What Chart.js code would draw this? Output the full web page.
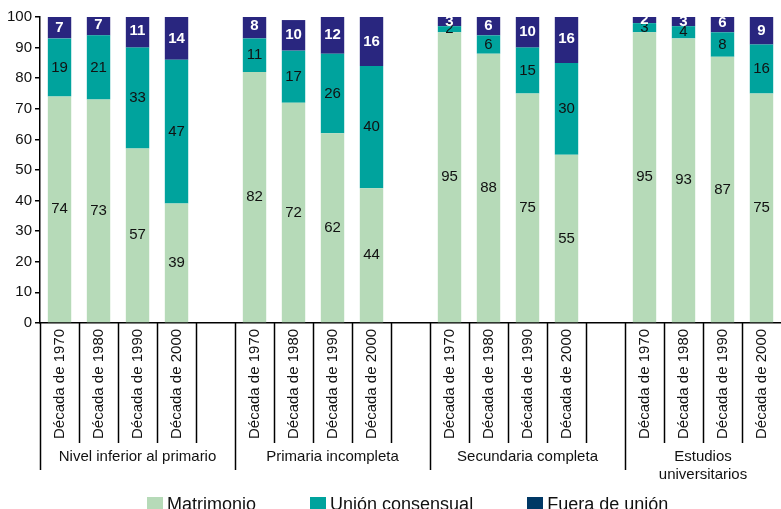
<!DOCTYPE html>
<html lang="es">
<head>
  <meta charset="UTF-8">
  <title>Tipo de unión por nivel educativo</title>
  <script src="https://cdn.jsdelivr.net/npm/chart.js"></script>
  <style>
    body {
      margin: 0;
      background: #fff;
      font-family: "Liberation Sans", Arial, sans-serif;
    }
    .wrap {
      position: relative;
      width: 781px;
      height: 509px;
      overflow: hidden;
    }
    .legend {
      position: absolute;
      top: 494px;
      left: 147px;
      display: flex;
      align-items: center;
      font-size: 18px;
      color: #111;
    }
    .legend-item {
      display: flex;
      align-items: center;
      margin-right: 54px;
    }
    .legend-color {
      width: 16px;
      height: 16px;
      margin-right: 4px;
    }
  </style>
</head>
<body>
  <div class="wrap">
    <canvas id="chart" width="781" height="509"></canvas>
    <div class="legend" id="legend"></div>
  </div>

  <script>
    // datos
    const decades = ['Década de 1970', 'Década de 1980', 'Década de 1990', 'Década de 2000'];
    const groups = ['Nivel inferior al primario', 'Primaria incompleta', 'Secundaria completa', ['Estudios', 'universitarios']];
    const matrimonio = [74, 73, 57, 39, 82, 72, 62, 44, 95, 88, 75, 55, 95, 93, 87, 75];
    const unionConsensual = [19, 21, 33, 47, 11, 17, 26, 40, 2, 6, 15, 30, 3, 4, 8, 16];
    const fueraDeUnion = [7, 7, 11, 14, 8, 10, 12, 16, 3, 6, 10, 16, 2, 3, 6, 9];
    const seriesNames = ['Matrimonio', 'Unión consensual', 'Fuera de unión'];
    const yMax = 100;
    const yStep = 10;

    const colors = ['#b6dab8', '#00a39d', '#29267f'];
    const legendColors = ['#b6dab8', '#00a39d', '#003865'];
    const FONT = '"Liberation Sans", Arial, sans-serif';
    const GROUP_BAND = 40;

    // etiquetas con un hueco entre grupos
    const labels = [];
    const groupStarts = [];
    function spread(values) {
      const out = [];
      groups.forEach((g, gi) => {
        decades.forEach((d, di) => out.push(values[gi * decades.length + di]));
        if (gi < groups.length - 1) out.push(null);
      });
      return out;
    }
    groups.forEach((g, gi) => {
      groupStarts.push(labels.length);
      decades.forEach(d => labels.push(d));
      if (gi < groups.length - 1) labels.push('');
    });

    const valueLabels = {
      id: 'valueLabels',
      afterDatasetsDraw(chart) {
        const ctx = chart.ctx;
        const a = chart.chartArea;
        ctx.save();
        ctx.beginPath();
        ctx.rect(a.left, a.top, a.right - a.left, a.bottom - a.top);
        ctx.clip();
        ctx.textAlign = 'center';
        ctx.textBaseline = 'middle';
        chart.data.datasets.forEach((ds, i) => {
          const meta = chart.getDatasetMeta(i);
          ctx.fillStyle = i === 2 ? '#fff' : '#111';
          ctx.font = (i === 2 ? 'bold ' : '') + '15px ' + FONT;
          meta.data.forEach((bar, j) => {
            const v = ds.data[j];
            if (v == null) return;
            ctx.fillText(v, bar.x, (bar.y + bar.base) / 2);
          });
        });
        ctx.restore();
      }
    };

    // separadores y nombres de grupo bajo el eje
    const groupAxis = {
      id: 'groupAxis',
      afterDraw(chart) {
        const ctx = chart.ctx;
        const xs = chart.scales.x;
        const n = labels.length;
        const slot = xs.width / n;
        const shortBottom = xs.bottom - GROUP_BAND + 6;
        const longBottom = shortBottom + 27;
        ctx.save();
        ctx.strokeStyle = '#000';
        ctx.lineWidth = 1.5;
        for (let b = 0; b < n; b++) {
          const x = Math.round(xs.left + b * slot) + 0.5;
          ctx.beginPath();
          ctx.moveTo(x, xs.top);
          ctx.lineTo(x, groupStarts.includes(b) ? longBottom : shortBottom);
          ctx.stroke();
        }
        ctx.fillStyle = '#111';
        ctx.font = '15px ' + FONT;
        ctx.textAlign = 'center';
        ctx.textBaseline = 'middle';
        groups.forEach((g, gi) => {
          const start = xs.left + groupStarts[gi] * slot;
          const end = gi < groups.length - 1 ? xs.left + groupStarts[gi + 1] * slot : xs.right;
          const lines = Array.isArray(g) ? g : [g];
          lines.forEach((t, li) => ctx.fillText(t, (start + end) / 2, shortBottom + 14 + li * 18));
        });
        ctx.restore();
      }
    };

    const ctx = document.getElementById('chart').getContext('2d');
    const chart = new Chart(ctx, {
      type: 'bar',
      data: {
        labels: labels,
        datasets: [
          { label: seriesNames[0], data: spread(matrimonio), backgroundColor: colors[0] },
          { label: seriesNames[1], data: spread(unionConsensual), backgroundColor: colors[1] },
          { label: seriesNames[2], data: spread(fueraDeUnion), backgroundColor: colors[2] }
        ]
      },
      options: {
        responsive: false,
        animation: false,
        layout: { padding: { left: 4, top: 17, right: 0, bottom: 32 } },
        datasets: { bar: { barPercentage: 0.6, categoryPercentage: 1, clip: 0 } },
        scales: {
          x: {
            stacked: true,
            grid: { display: false },
            border: { display: true, color: '#000', width: 1.5 },
            ticks: {
              autoSkip: false,
              minRotation: 90,
              maxRotation: 90,
              padding: -2,
              color: '#111',
              font: { family: FONT, size: 15 }
            },
            afterFit(scale) { scale.height += GROUP_BAND; }
          },
          y: {
            stacked: true,
            min: 0,
            max: yMax,
            ticks: { stepSize: yStep, color: '#111', padding: 3, font: { family: FONT, size: 15 } },
            grid: { drawOnChartArea: false, tickLength: 5, color: '#000', lineWidth: 1.5 },
            border: { display: true, color: '#000', width: 1.5 }
          }
        },
        plugins: {
          legend: { display: false },
          tooltip: { enabled: false }
        }
      },
      plugins: [valueLabels, groupAxis]
    });

    // leyenda propia
    const legendContainer = document.getElementById('legend');
    seriesNames.forEach((name, i) => {
      const item = document.createElement('div');
      item.classList.add('legend-item');
      const box = document.createElement('div');
      box.classList.add('legend-color');
      box.style.backgroundColor = legendColors[i];
      const text = document.createElement('span');
      text.textContent = name;
      item.appendChild(box);
      item.appendChild(text);
      legendContainer.appendChild(item);
    });
  </script>
</body>
</html>
